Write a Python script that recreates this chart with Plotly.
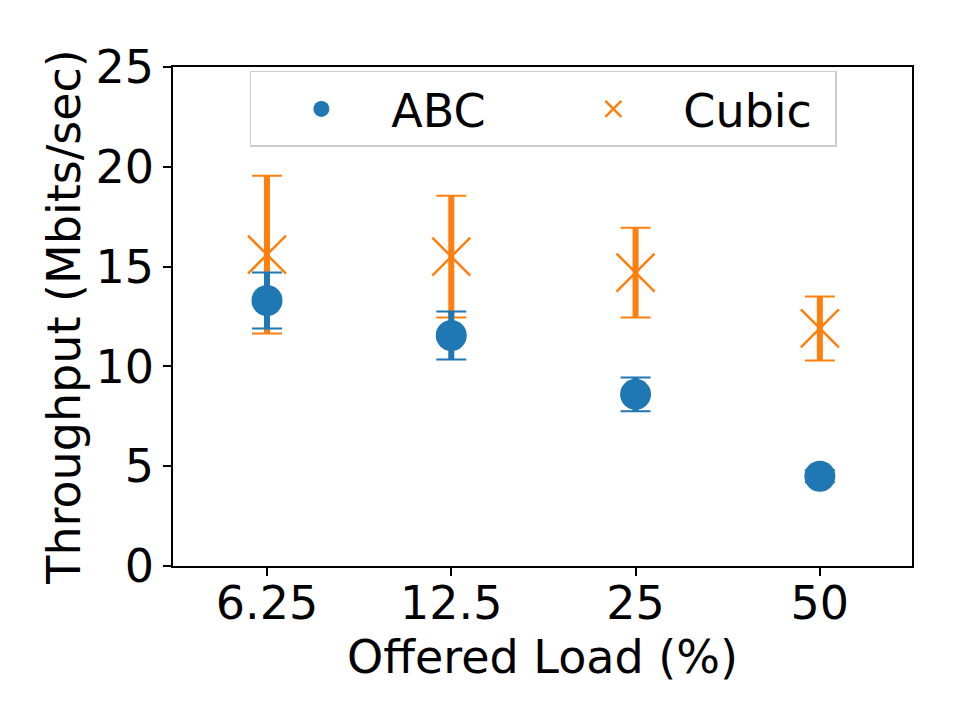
import plotly.graph_objects as go

# offered load categories (x tick labels)
loads = ["6.25", "12.5", "25", "50"]

# throughput means and error (Mbits/sec)
abc_mean = [13.3, 11.55, 8.6, 4.5]
abc_err = [1.4, 1.2, 0.85, 0.3]
cubic_mean = [15.6, 15.5, 14.7, 11.9]
cubic_err = [3.95, 3.05, 2.25, 1.6]

BLUE = "#1f77b4"
ORANGE = "#ff7f0e"
FONT = "DejaVu Sans"


def add_series(fig, name, mean, err, color, marker, rank):
    # thin caps (own trace so they can be thinner than the bar itself)
    fig.add_trace(go.Scatter(
        x=loads, y=mean, mode="none", showlegend=False, hoverinfo="skip",
        error_y=dict(type="data", array=err, visible=True,
                     color=color, thickness=2, width=15),
    ))
    # thick vertical bar + marker
    fig.add_trace(go.Scatter(
        x=loads, y=mean, name=name, mode="markers", marker=marker,
        error_y=dict(type="data", array=err, visible=True,
                     color=color, thickness=6, width=0),
        legendrank=rank,
    ))


fig = go.Figure()

# Cubic first so that ABC is drawn on top of it
add_series(fig, "Cubic", cubic_mean, cubic_err, ORANGE,
           dict(symbol="x-thin", size=38, color=ORANGE,
                line=dict(color=ORANGE, width=2.5)), 2)
add_series(fig, "ABC", abc_mean, abc_err, BLUE,
           dict(symbol="circle", size=31, color=BLUE), 1)

axis_common = dict(
    showline=True, linecolor="black", linewidth=1.5, mirror=True,
    ticks="outside", ticklen=8, tickwidth=1.5, tickcolor="black",
    showgrid=False, zeroline=False,
    tickfont=dict(family=FONT, size=46, color="black"),
    title_font=dict(family=FONT, size=46, color="black"),
)

fig.update_layout(
    width=968, height=726,
    margin=dict(l=165, r=64, t=59, b=168),
    paper_bgcolor="white", plot_bgcolor="white",
    font=dict(family=FONT, size=46, color="black"),
    xaxis=dict(axis_common, title=dict(text="Offered Load (%)", standoff=0),
               type="category", range=[-0.51, 3.5], ticklabelstandoff=-12),
    yaxis=dict(axis_common, title=dict(text="Throughput (Mbits/sec)", standoff=0),
               range=[0, 25], tickvals=[0, 5, 10, 15, 20, 25]),
    legend=dict(
        orientation="h", x=0.104, y=0.992, xanchor="left", yanchor="top",
        bgcolor="rgba(255,255,255,0.8)", bordercolor="#cccccc", borderwidth=1.5,
        font=dict(family=FONT, size=46, color="black"),
        itemwidth=130, entrywidth=147, entrywidthmode="pixels",
    ),
    showlegend=True,
)

fig.write_html("out.html")
